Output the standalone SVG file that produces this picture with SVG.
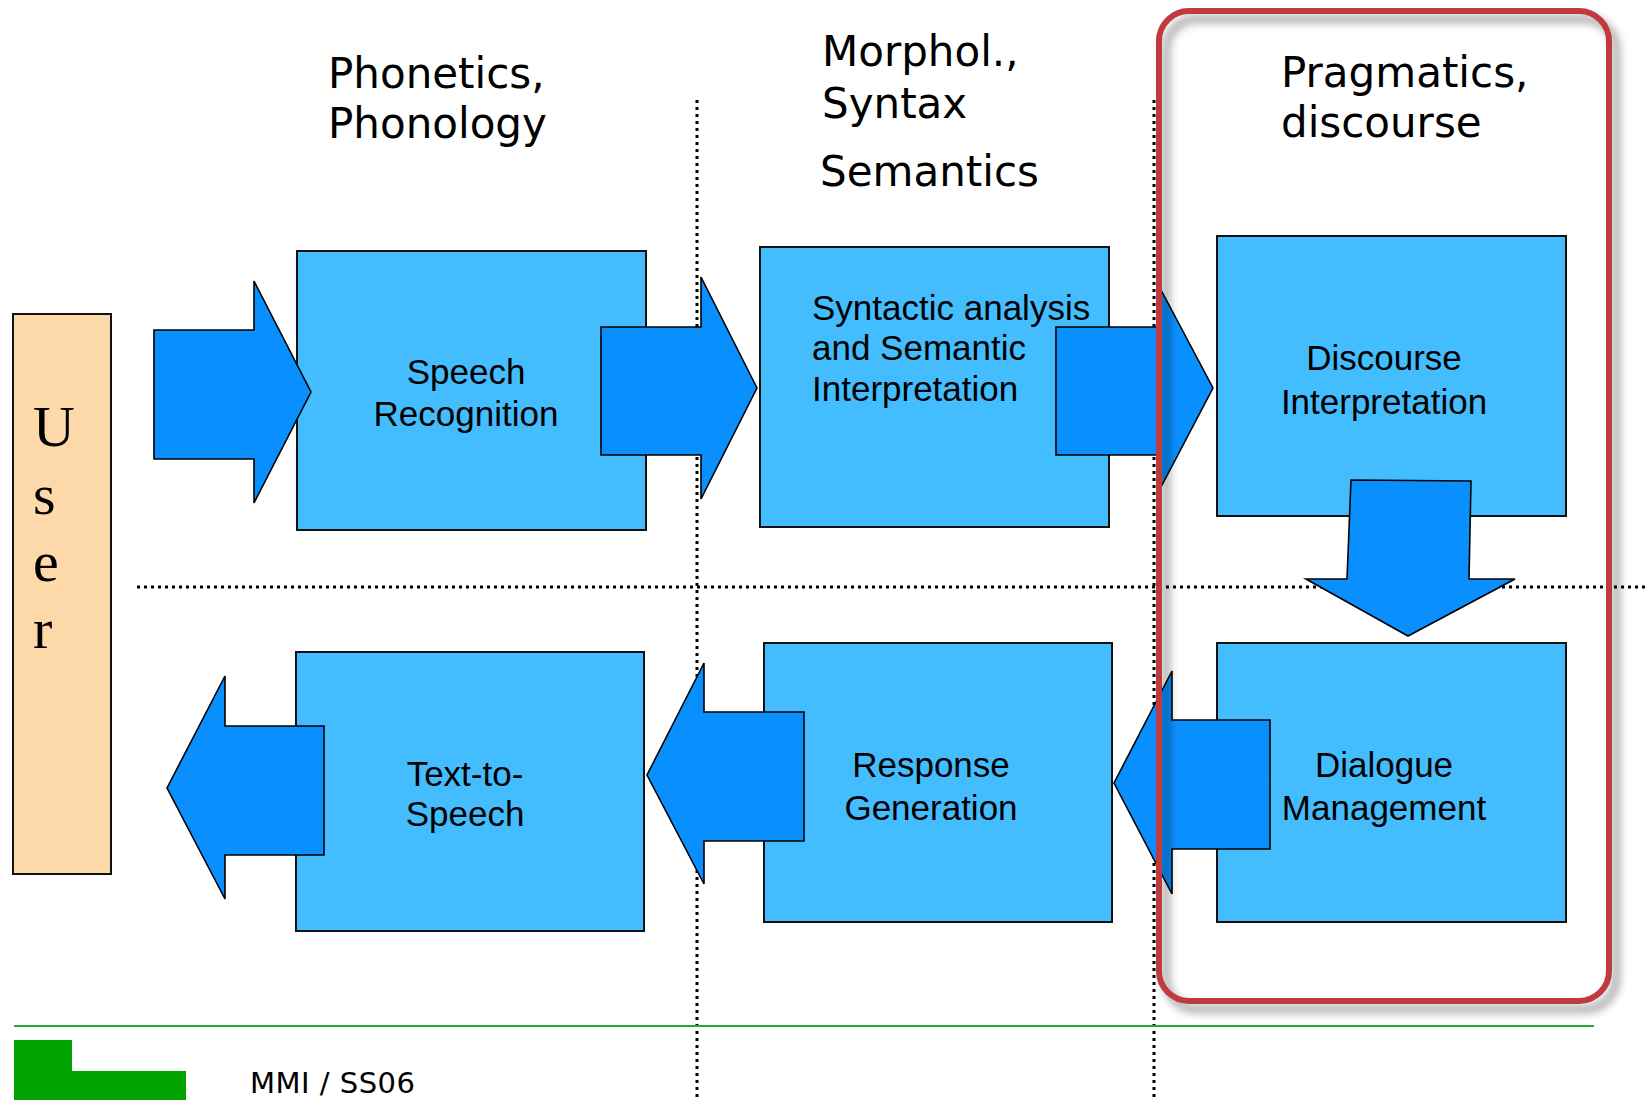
<svg xmlns="http://www.w3.org/2000/svg" width="1645" height="1100" viewBox="0 0 1645 1100">
<defs>
<style>
.box{fill:#44BDFE;stroke:#111;stroke-width:2}
.arr{fill:#0A8FFF;stroke:#000;stroke-width:1.6;stroke-linejoin:miter}
.lbl{font-family:"Liberation Sans",Arial,sans-serif;font-size:35px;fill:#000}
.hdr{font-family:"DejaVu Sans",Verdana,sans-serif;font-size:42px;fill:#000}
.usr{font-family:"Liberation Serif","Times New Roman",serif;font-size:58px;fill:#000}
.dot{stroke:#000;stroke-width:3;stroke-dasharray:3 4;fill:none}
</style>
<filter id="shadow" x="-10%" y="-10%" width="130%" height="130%">
<feGaussianBlur in="SourceAlpha" stdDeviation="5"/>
<feOffset dx="7" dy="8" result="b"/>
<feComponentTransfer><feFuncA type="linear" slope="0.45"/></feComponentTransfer>
<feMerge><feMergeNode/><feMergeNode in="SourceGraphic"/></feMerge>
</filter>
</defs>
<rect width="1645" height="1100" fill="#fff"/>

<g id="headers">
<text class="hdr" x="328" y="88">Phonetics,</text>
<text class="hdr" x="328" y="138">Phonology</text>
<text class="hdr" x="822" y="66">Morphol.,</text>
<text class="hdr" x="822" y="118">Syntax</text>
<text class="hdr" x="820" y="186">Semantics</text>
<text class="hdr" x="1281" y="87">Pragmatics,</text>
<text class="hdr" x="1281" y="137">discourse</text>
</g>

<g id="guides">
<line class="dot" x1="697" y1="100" x2="697" y2="1100"/>
<line class="dot" x1="1154" y1="100" x2="1154" y2="1100"/>
<line class="dot" x1="137" y1="587" x2="1645" y2="587"/>
</g>

<g id="user">
<rect x="13" y="314" width="98" height="560" fill="#FDD8A9" stroke="#111" stroke-width="2"/>
<text class="usr" x="33" y="446">U</text>
<text class="usr" x="33" y="514">s</text>
<text class="usr" x="33" y="581">e</text>
<text class="usr" x="33" y="648">r</text>
</g>

<g id="speech-recognition">
<rect class="box" x="297" y="251" width="349" height="279"/>
<text class="lbl" x="466" y="384" text-anchor="middle">Speech</text>
<text class="lbl" x="466" y="426" text-anchor="middle">Recognition</text>
</g>

<g id="syntactic-analysis">
<rect class="box" x="760" y="247" width="349" height="280"/>
<text class="lbl" x="812" y="320">Syntactic analysis</text>
<text class="lbl" x="812" y="360">and Semantic</text>
<text class="lbl" x="812" y="401">Interpretation</text>
</g>

<g id="discourse-interpretation">
<rect class="box" x="1217" y="236" width="349" height="280"/>
<text class="lbl" x="1384" y="370" text-anchor="middle">Discourse</text>
<text class="lbl" x="1384" y="414" text-anchor="middle">Interpretation</text>
</g>

<g id="text-to-speech">
<rect class="box" x="296" y="652" width="348" height="279"/>
<text class="lbl" x="465" y="786" text-anchor="middle">Text-to-</text>
<text class="lbl" x="465" y="826" text-anchor="middle">Speech</text>
</g>

<g id="response-generation">
<rect class="box" x="764" y="643" width="348" height="279"/>
<text class="lbl" x="931" y="777" text-anchor="middle">Response</text>
<text class="lbl" x="931" y="820" text-anchor="middle">Generation</text>
</g>

<g id="dialogue-management">
<rect class="box" x="1217" y="643" width="349" height="279"/>
<text class="lbl" x="1384" y="777" text-anchor="middle">Dialogue</text>
<text class="lbl" x="1384" y="820" text-anchor="middle">Management</text>
</g>

<g id="connectors">
<polygon class="arr" points="154,330 254,330 254,281 311,392 254,503 254,459 154,459"/>
<polygon class="arr" points="601,327 701,327 701,277 757,388 701,499 701,455 601,455"/>
<polygon class="arr" points="1056,327 1160,327 1160,288 1213,388 1160,489 1160,455 1056,455"/>
<polygon class="arr" points="1351,480 1471,481 1469,579 1515,579 1408,636 1306,579 1347,579"/>
<polygon class="arr" points="1270,720 1172,720 1172,671 1114,783 1172,894 1172,849 1270,849"/>
<polygon class="arr" points="804,712 704,712 704,663 647,775 704,884 704,841 804,841"/>
<polygon class="arr" points="324,726 225,726 225,676 167,788 225,899 225,855 324,855"/>
</g>

<g id="highlight">
<rect x="1159" y="11" width="450" height="990" rx="30" ry="30" fill="none" stroke="#BF3B3C" stroke-width="6" filter="url(#shadow)"/>
</g>

<g id="footer">
<line x1="14" y1="1026" x2="1594" y2="1026" stroke="#2AAA2A" stroke-width="2"/>
<polygon points="14,1040 72,1040 72,1071 186,1071 186,1100 14,1100" fill="#00A300"/>
<text x="250" y="1093" font-family="'DejaVu Sans',Verdana,sans-serif" font-size="29" letter-spacing="0.5" fill="#000">MMI / SS06</text>
</g>
</svg>
